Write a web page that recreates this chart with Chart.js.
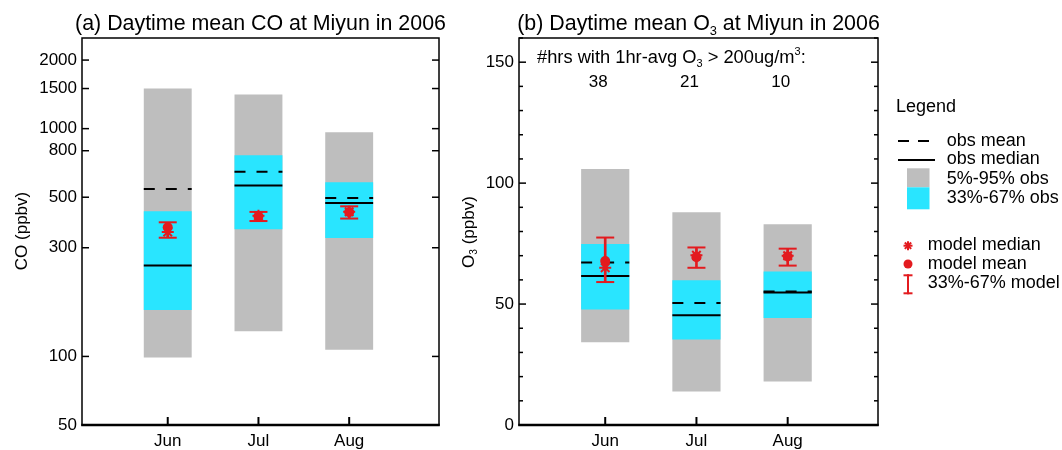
<!DOCTYPE html>
<html>
<head>
<meta charset="utf-8">
<script src="https://cdn.jsdelivr.net/npm/chart.js@4.4.0/dist/chart.umd.min.js"></script>
<style>
  body { margin: 0; background: #fff; }
  #wrap { position: relative; width: 1062px; height: 450px; }
  #coBox { position: absolute; left: 0; top: 0; width: 450px; height: 450px; }
  #o3Box { position: absolute; left: 450px; top: 0; width: 612px; height: 450px; }
</style>
</head>
<body>
<div id="wrap">
  <div id="coBox"><canvas id="coChart" width="450" height="450"></canvas></div>
  <div id="o3Box"><canvas id="o3Chart" width="612" height="450"></canvas></div>
</div>
<script>
// Categorias
const months = ['Jun', 'Jul', 'Aug'];
const monthPos = [1, 2, 3];

// CO (ppbv) - observaciones
const coP05 = [99, 129, 107];
const coP95 = [1500, 1413, 965];
const coP33 = [160, 362, 331];
const coP67 = [434, 765, 582];
const coObsMean = [543, 646, 496];
const coObsMedian = [251, 563, 472];
// CO (ppbv) - modelo
const coModMean = [369, 412, 430];
const coModMedian = [352, 415, 432];
const coMod33 = [332, 393, 403];
const coMod67 = [388, 431, 456];
const coTicks = [50, 100, 300, 500, 800, 1000, 1500, 2000];

// O3 (ppbv) - observaciones
const o3P05 = [34.2, 13.9, 18];
const o3P95 = [105.8, 88, 83];
const o3P33 = [47.8, 35.3, 44.2];
const o3P67 = [74.8, 59.8, 63.5];
const o3ObsMean = [67.2, 50.4, 55.2];
const o3ObsMedian = [61.6, 45.4, 54.8];
// O3 (ppbv) - modelo
const o3ModMean = [67.8, 69.4, 69.7];
const o3ModMedian = [65, 70.2, 70];
const o3Mod33 = [59.1, 65, 65.9];
const o3Mod67 = [77.5, 73.4, 72.9];
const o3Ticks = [0, 50, 100, 150];
const o3MinorTicks = [10, 20, 30, 40, 60, 70, 80, 90, 110, 120, 130, 140, 160];
const o3Hours = ['38', '21', '10'];

const GRAY = '#bebebe';
const CYAN = '#29e5ff';
const RED = '#e31b1f';
const FONT = '"Liberation Sans", Arial, Helvetica, sans-serif';
const HALF = 0.264;   // media anchura de las cajas (unidades de x)

Chart.defaults.color = '#000';
Chart.defaults.font.family = FONT;

function rangeBars(lo, hi) {
    return monthPos.map((x, i) => ({ x: x, y: [lo[i], hi[i]] }));
}
function points(v) {
    return monthPos.map((x, i) => ({ x: x, y: v[i] }));
}
function segments(v) {
    const out = [];
    monthPos.forEach((x, i) => {
        out.push({ x: x - HALF, y: v[i] }, { x: x + HALF, y: v[i] }, { x: x + 0.5, y: null });
    });
    return out;
}
function capPoints(lo, hi) {
    return monthPos.flatMap((x, i) => [{ x: x, y: lo[i] }, { x: x, y: hi[i] }]);
}

function buildDatasets(p05, p95, p33, p67, obsMean, obsMedian, m33, m67, mMean, mMedian) {
    return [
        { type: 'bar', label: '5%-95% obs', data: rangeBars(p05, p95), backgroundColor: GRAY,
          grouped: false, categoryPercentage: 1, barPercentage: 2 * HALF, order: 9 },
        { type: 'bar', label: '33%-67% obs', data: rangeBars(p33, p67), backgroundColor: CYAN,
          grouped: false, categoryPercentage: 1, barPercentage: 2 * HALF, order: 8 },
        { type: 'line', label: 'obs median', data: segments(obsMedian), borderColor: '#000',
          borderWidth: 2, pointRadius: 0, spanGaps: false, order: 7 },
        { type: 'line', label: 'obs mean', data: segments(obsMean), borderColor: '#000',
          borderWidth: 2, borderDash: [11, 11], pointRadius: 0, spanGaps: false, order: 6 },
        { type: 'bar', label: '33%-67% model', data: rangeBars(m33, m67), backgroundColor: RED,
          grouped: false, barThickness: 2, order: 5 },
        { type: 'line', label: 'caps', data: capPoints(m33, m67), showLine: false,
          pointStyle: 'line', pointRadius: 9, pointBorderWidth: 2, pointBorderColor: RED, order: 4 },
        { type: 'line', label: 'model mean', data: points(mMean), showLine: false,
          pointStyle: 'circle', pointRadius: 5, pointBorderWidth: 0, pointBackgroundColor: RED, order: 3 },
        { type: 'line', label: 'model median', data: points(mMedian), showLine: false,
          pointStyle: 'star', pointRadius: 6, pointBorderWidth: 2, pointBorderColor: RED, order: 2 }
    ];
}

// Texto con subindices / superindices
function richText(ctx, parts, x, y, size, align) {
    const small = size * 0.6;
    let w = 0;
    parts.forEach(([t, k]) => {
        ctx.font = (k ? small : size) + 'px ' + FONT;
        w += ctx.measureText(t).width;
    });
    let cx = align === 'center' ? x - w / 2 : x;
    ctx.textAlign = 'left';
    ctx.textBaseline = 'alphabetic';
    ctx.fillStyle = '#000';
    parts.forEach(([t, k]) => {
        ctx.font = (k ? small : size) + 'px ' + FONT;
        const dy = k === 'sub' ? size * 0.22 : (k === 'sup' ? -size * 0.42 : 0);
        ctx.fillText(t, cx, y + dy);
        cx += ctx.measureText(t).width;
    });
}

function seg(ctx, x1, y1, x2, y2) {
    ctx.beginPath();
    ctx.moveTo(x1, y1);
    ctx.lineTo(x2, y2);
    ctx.stroke();
}

// Marco y marcas de los ejes hacia dentro
function drawFrame(chart, majors, minors) {
    const { ctx, chartArea: a, scales } = chart;
    ctx.save();
    ctx.strokeStyle = '#000';
    ctx.lineWidth = 1.5;
    majors.forEach(v => {
        const py = scales.y.getPixelForValue(v);
        seg(ctx, a.left, py, a.left + 7, py);
        seg(ctx, a.right, py, a.right - 7, py);
    });
    minors.forEach(v => {
        const py = scales.y.getPixelForValue(v);
        seg(ctx, a.left, py, a.left + 4, py);
        seg(ctx, a.right, py, a.right - 4, py);
    });
    ctx.lineWidth = 2;
    monthPos.forEach(v => {
        const px = scales.x.getPixelForValue(v);
        seg(ctx, px, a.bottom, px, a.bottom - 8);
    });
    ctx.lineWidth = 1.5;
    ctx.strokeRect(a.left, a.top, a.right - a.left, a.bottom - a.top);
    ctx.lineWidth = 2.5;
    seg(ctx, a.left - 0.75, a.bottom, a.right + 0.75, a.bottom);
    ctx.restore();
}

function baseOptions(yScale, yWidth, rightPad) {
    return {
        responsive: false,
        animation: false,
        layout: { padding: { top: 38, right: rightPad, left: 0, bottom: 0 } },
        plugins: { legend: { display: false }, tooltip: { enabled: false } },
        scales: {
            x: {
                type: 'linear',
                offset: false,
                min: 0.055,
                max: 3.99,
                grid: { display: false, drawTicks: false },
                border: { display: false },
                afterBuildTicks: s => { s.ticks = monthPos.map(v => ({ value: v })); },
                afterFit: s => { s.height = 25; },
                ticks: {
                    padding: 6,
                    font: { size: 17 },
                    callback: (v, i) => months[i]
                }
            },
            y: Object.assign({
                grid: { display: false, drawTicks: false },
                border: { display: false },
                afterFit: s => { s.width = yWidth; }
            }, yScale)
        }
    };
}

// Panel (a): CO
const coOptions = baseOptions({
    type: 'logarithmic',
    min: 50,
    max: 2500,
    afterBuildTicks: s => { s.ticks = coTicks.map(v => ({ value: v })); },
    ticks: { padding: 5, font: { size: 17 }, callback: v => String(v) }
}, 82, 10);

new Chart(document.getElementById('coChart'), {
    type: 'bar',
    data: {
        datasets: buildDatasets(coP05, coP95, coP33, coP67, coObsMean, coObsMedian,
            coMod33, coMod67, coModMean, coModMedian)
    },
    options: coOptions,
    plugins: [{
        id: 'coDecor',
        afterDraw(chart) {
            const { ctx, chartArea: a } = chart;
            drawFrame(chart, coTicks, []);
            richText(ctx, [['(a) Daytime mean CO at Miyun in 2006', '']], (a.left + a.right) / 2, 30, 21.4, 'center');
            ctx.save();
            ctx.translate(26.5, 231);
            ctx.rotate(-Math.PI / 2);
            richText(ctx, [['CO (ppbv)', '']], 0, 0, 17, 'center');
            ctx.restore();
        }
    }]
});

// Panel (b): O3
const o3Options = baseOptions({
    type: 'linear',
    min: 0,
    max: 160,
    afterBuildTicks: s => { s.ticks = o3Ticks.map(v => ({ value: v })); },
    ticks: { padding: 5, font: { size: 17 }, callback: v => String(v) }
}, 69, 184);

// Leyenda (coordenadas del lienzo derecho)
function drawLegend(ctx) {
    ctx.save();
    ctx.fillStyle = '#000';
    ctx.font = '18px ' + FONT;
    ctx.textAlign = 'left';
    ctx.textBaseline = 'alphabetic';
    ctx.fillText('Legend', 446, 111.5);
    ctx.strokeStyle = '#000';
    ctx.lineWidth = 2;
    ctx.setLineDash([11, 9]);
    seg(ctx, 448, 141, 480, 141);
    ctx.setLineDash([]);
    seg(ctx, 448, 160, 485, 160);
    ctx.fillStyle = GRAY;
    ctx.fillRect(457, 168.3, 22.5, 19);
    ctx.fillStyle = CYAN;
    ctx.fillRect(457, 187.3, 22.5, 22);
    ctx.fillStyle = '#000';
    ctx.fillText('obs mean', 496.7, 145.7);
    ctx.fillText('obs median', 496.7, 164.3);
    ctx.fillText('5%-95% obs', 496.7, 184);
    ctx.fillText('33%-67% obs', 496.7, 203);

    // simbolos del modelo
    ctx.strokeStyle = RED;
    ctx.fillStyle = RED;
    ctx.lineWidth = 2;
    const sx = 458, sy = 245.7, r = 4.5;
    seg(ctx, sx - r, sy, sx + r, sy);
    seg(ctx, sx, sy - r, sx, sy + r);
    const d = r * Math.SQRT1_2;
    seg(ctx, sx - d, sy - d, sx + d, sy + d);
    seg(ctx, sx - d, sy + d, sx + d, sy - d);
    ctx.beginPath();
    ctx.arc(sx, 264, 4.5, 0, Math.PI * 2);
    ctx.fill();
    seg(ctx, sx, 274.3, sx, 294.3);
    seg(ctx, sx - 4.5, 275.3, sx + 4.5, 275.3);
    seg(ctx, sx - 4.5, 293.3, sx + 4.5, 293.3);
    ctx.fillStyle = '#000';
    ctx.fillText('model median', 477.7, 250);
    ctx.fillText('model mean', 477.7, 269);
    ctx.fillText('33%-67% model', 477.7, 288.3);
    ctx.restore();
}

new Chart(document.getElementById('o3Chart'), {
    type: 'bar',
    data: {
        datasets: buildDatasets(o3P05, o3P95, o3P33, o3P67, o3ObsMean, o3ObsMedian,
            o3Mod33, o3Mod67, o3ModMean, o3ModMedian)
    },
    options: o3Options,
    plugins: [{
        id: 'o3Decor',
        afterDraw(chart) {
            const { ctx, chartArea: a, scales } = chart;
            drawFrame(chart, o3Ticks, o3MinorTicks);
            richText(ctx, [['(b) Daytime mean O', ''], ['3', 'sub'], [' at Miyun in 2006', '']],
                (a.left + a.right) / 2, 30, 21.4, 'center');
            ctx.save();
            ctx.translate(23.5, 232);
            ctx.rotate(-Math.PI / 2);
            richText(ctx, [['O', ''], ['3', 'sub'], [' (ppbv)', '']], 0, 0, 17, 'center');
            ctx.restore();
            richText(ctx, [['#hrs with 1hr-avg O', ''], ['3', 'sub'], [' > 200ug/m', ''], ['3', 'sup'], [':', '']],
                a.left + 18, 63, 18.3, 'left');
            monthPos.forEach((v, i) => {
                richText(ctx, [[o3Hours[i], '']], scales.x.getPixelForValue(v) - 7, 87, 17, 'center');
            });
            drawLegend(ctx);
        }
    }]
});
</script>
</body>
</html>
